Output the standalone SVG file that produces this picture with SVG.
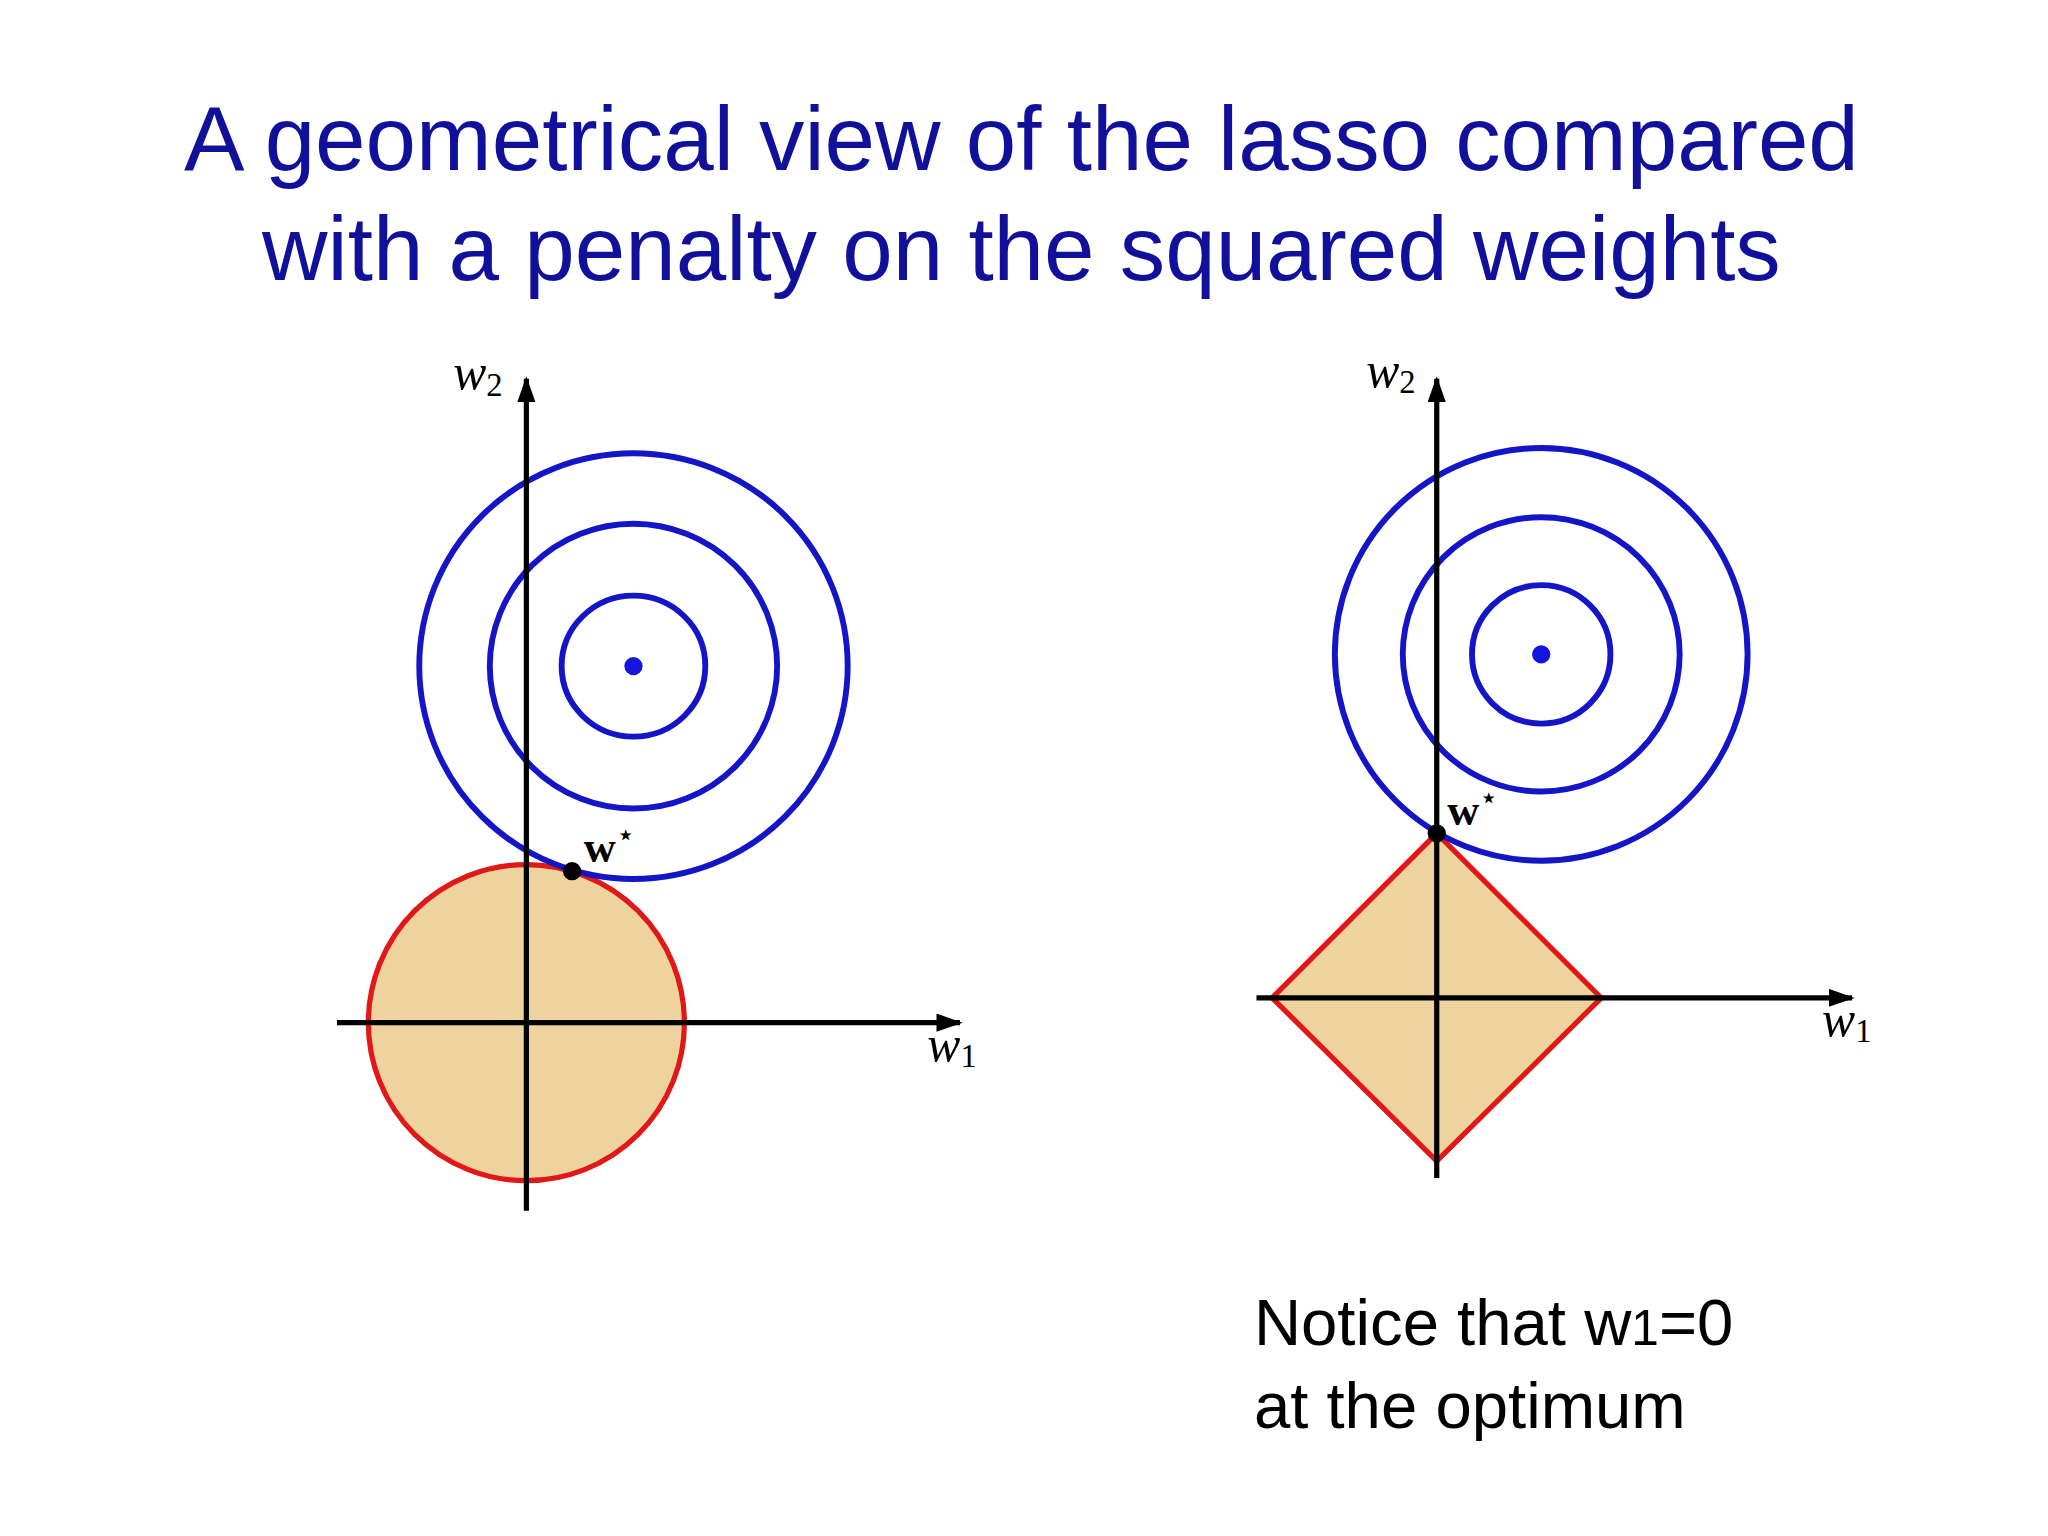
<svg xmlns="http://www.w3.org/2000/svg" width="2048" height="1536" viewBox="0 0 2048 1536">
<style>
.t{font-family:"Liberation Sans",Arial,sans-serif;fill:#10109a;font-size:69.5px;text-anchor:middle}
.n{font-family:"Liberation Sans",Arial,sans-serif;fill:#000;font-size:50px}
.m{font-family:"Liberation Serif","Times New Roman",serif;font-style:italic;fill:#000;font-size:38px}
.b{font-family:"Liberation Serif","Times New Roman",serif;font-weight:bold;fill:#000;font-size:34px}
.c{fill:none;stroke:#1515c8;stroke-width:4.5}
.ax{stroke:#000;stroke-width:4;fill:none}
.reg{fill:#efd39e;stroke:#e01818;stroke-width:4}
</style>
<defs><marker id="arr" markerWidth="20" markerHeight="14" refX="18" refY="7" orient="auto" markerUnits="userSpaceOnUse"><path d="M0,0L20,7L0,14z" fill="#000"/></marker></defs>
<rect width="2048" height="1536" fill="#fff"/>
<g transform="scale(1.30612)">
<g id="title"><text class="t" x="782" y="130">A geometrical view of the lasso compared</text><text class="t" x="782" y="214">with a penalty on the squared weights</text></g>
<g id="left">
<circle class="reg" cx="403" cy="783" r="121"/>
<ellipse class="c" cx="485" cy="510" rx="164" ry="163"/>
<ellipse class="c" cx="485" cy="510" rx="110" ry="109"/>
<ellipse class="c" cx="485" cy="510" rx="55" ry="54"/>
<circle cx="485" cy="510" r="7" fill="#1515e0"/>
<g class="connectors"><line class="ax" x1="403" y1="927" x2="403" y2="290" marker-end="url(#arr)"/><line class="ax" x1="258" y1="783" x2="735" y2="783" marker-end="url(#arr)"/></g>
<circle cx="438" cy="667" r="7" fill="#000"/>
<text class="b" x="447" y="660">w<tspan font-size="24" dy="-13" font-weight="normal">⋆</tspan></text>
<text class="m" x="347" y="298">w<tspan font-size="25" font-style="normal" dy="5">2</tspan></text>
<text class="m" x="710" y="812">w<tspan font-size="25" font-style="normal" dy="5">1</tspan></text>
</g>
<g id="right">
<polygon class="reg" points="1100,638 1226,764 1100,889 974,764"/>
<ellipse class="c" cx="1180" cy="501" rx="158" ry="158"/>
<ellipse class="c" cx="1180" cy="501" rx="106" ry="105"/>
<ellipse class="c" cx="1180" cy="501" rx="53" ry="53"/>
<circle cx="1180" cy="501" r="7" fill="#1515e0"/>
<g class="connectors"><line class="ax" x1="1100" y1="902" x2="1100" y2="290" marker-end="url(#arr)"/><line class="ax" x1="962" y1="764" x2="1418" y2="764" marker-end="url(#arr)"/></g>
<circle cx="1100" cy="638" r="7" fill="#000"/>
<text class="b" x="1108" y="632">w<tspan font-size="24" dy="-13" font-weight="normal">⋆</tspan></text>
<text class="m" x="1046" y="296">w<tspan font-size="25" font-style="normal" dy="5">2</tspan></text>
<text class="m" x="1395" y="793">w<tspan font-size="25" font-style="normal" dy="5">1</tspan></text>
</g>
<g id="note"><text class="n" x="960" y="1030">Notice that w<tspan font-size="38">1</tspan>=0</text><text class="n" x="960" y="1093">at the optimum</text></g>
</g>
</svg>
